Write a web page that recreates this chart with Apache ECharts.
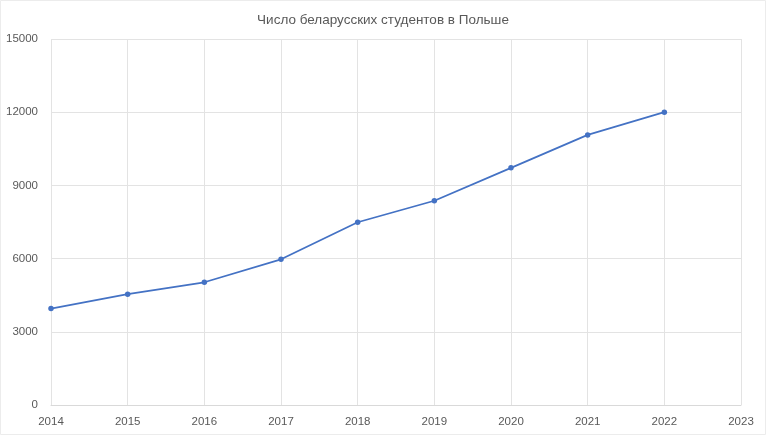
<!DOCTYPE html>
<html>
<head>
<meta charset="utf-8">
<script src="https://cdn.jsdelivr.net/npm/echarts@6/dist/echarts.min.js"></script>
<style>
html,body{margin:0;padding:0;background:#fff;}
#c{width:766px;height:436px;}
</style>
</head>
<body>
<div id="c"></div>
<script>
const titleText = 'Число беларусских студентов в Польше';
const years = ['2014','2015','2016','2017','2018','2019','2020','2021','2022','2023'];
const students = [3950, 4540, 5030, 5970, 7490, 8370, 9720, 11070, 12000];

const FONT = '"Liberation Sans", Arial, sans-serif';
const chart = echarts.init(document.getElementById('c'));
chart.setOption({
  backgroundColor: '#fff',
  animation: false,
  graphic: [{
    type: 'rect', silent: true, z: -10,
    shape: {x: 0.5, y: 0.5, width: 765, height: 434},
    style: {fill: 'none', stroke: '#ececec', lineWidth: 1}
  }],
  title: {
    text: titleText, left: 'center', top: 8,
    textStyle: {fontFamily: FONT, fontSize: 13.5, fontWeight: 'normal', color: '#595959'}
  },
  grid: {left: 51, right: 25, top: 39, bottom: 31, outerBoundsMode: 'none'},
  xAxis: {
    type: 'category', data: years, boundaryGap: false,
    axisLine: {lineStyle: {color: '#d9d9d9'}},
    axisTick: {show: false},
    axisLabel: {color: '#595959', fontFamily: FONT, fontSize: 11.5, margin: 11, interval: 0},
    splitLine: {show: true, lineStyle: {color: '#e3e3e3'}}
  },
  yAxis: {
    type: 'value', min: 0, max: 15000, interval: 3000,
    axisLine: {show: false}, axisTick: {show: false},
    axisLabel: {color: '#595959', fontFamily: FONT, fontSize: 11.5, margin: 13,
      formatter: function (v) { return String(v); }},
    splitLine: {lineStyle: {color: '#e3e3e3'}}
  },
  series: [{
    type: 'line', data: students,
    lineStyle: {color: '#4472C4', width: 1.75},
    itemStyle: {color: '#4472C4'},
    symbol: 'circle', symbolSize: 5.5
  }]
});
</script>
</body>
</html>
